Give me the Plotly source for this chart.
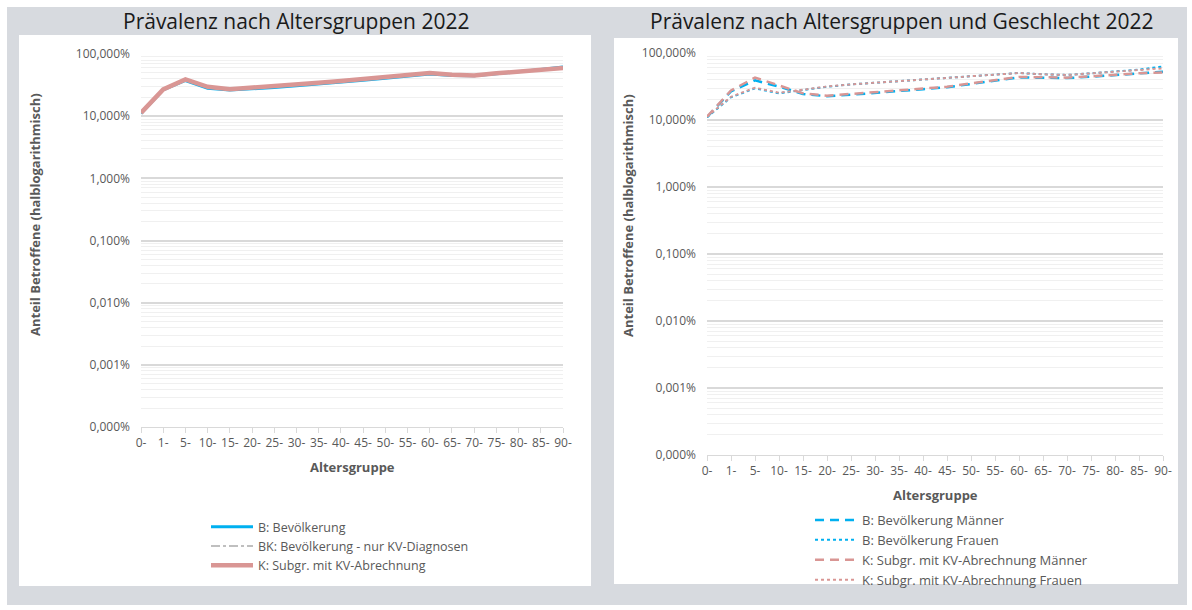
import plotly.graph_objects as go

# ---------------- data ----------------
age_groups = ["0-", "1-", "5-", "10-", "15-", "20-", "25-", "30-", "35-", "40-",
              "45-", "50-", "55-", "60-", "65-", "70-", "75-", "80-", "85-", "90-"]

# left chart (percent)
b_total = [11.0, 26.5, 37.5, 28.0, 26.3, 27.3, 29.0, 30.8, 32.8, 35.0,
           37.7, 40.8, 44.5, 47.5, 45.0, 44.5, 48.0, 51.5, 56.5, 62.0]
bk_total = [11.2, 26.8, 38.5, 29.3, 27.0, 28.3, 30.2, 32.0, 34.0, 36.3,
            39.0, 42.2, 45.8, 49.0, 46.0, 45.0, 48.5, 51.5, 55.5, 59.0]
k_total = [11.3, 27.0, 39.0, 29.7, 27.2, 28.6, 30.5, 32.4, 34.4, 36.7,
           39.5, 42.6, 46.3, 49.4, 46.3, 45.3, 48.9, 51.9, 55.9, 59.4]

# right chart (percent)
b_maenner = [11.0, 26.8, 39.0, 31.5, 24.5, 22.6, 23.8, 25.6, 27.1, 28.8,
             30.8, 34.5, 38.8, 43.2, 42.7, 42.2, 44.2, 46.8, 49.5, 52.5]
b_frauen = [11.0, 21.8, 29.7, 25.0, 28.0, 31.4, 34.0, 36.0, 38.2, 40.5,
            42.4, 45.4, 48.1, 50.3, 48.1, 47.0, 49.8, 52.6, 56.5, 63.0]
k_maenner = [11.2, 27.6, 43.0, 33.0, 25.0, 23.1, 24.4, 26.2, 27.7, 29.4,
             31.4, 35.2, 39.5, 43.9, 43.4, 42.9, 44.9, 47.5, 49.8, 51.4]
k_frauen = [11.2, 22.2, 30.3, 25.5, 28.3, 31.6, 34.0, 36.0, 38.2, 40.5,
            42.4, 45.4, 48.1, 50.3, 48.1, 47.0, 49.8, 52.3, 55.0, 59.0]

y_tick_vals = [0.0001, 0.001, 0.01, 0.1, 1, 10, 100]
y_tick_text = ["0,000%", "0,001%", "0,010%", "0,100%", "1,000%", "10,000%", "100,000%"]

# ---------------- styling ----------------
W, H = 1192, 610
FONT = "Open Sans"
TXT = "#595959"
BLUE = "#00b0f0"
RED = "#d99694"
GRAY = "#bfbfbf"
BG = "#d7dadf"

def px(x):
    return x / W

def py(y):
    return 1 - y / H

minor_vals = [m * 10 ** e for e in range(-4, 2) for m in range(2, 10)]

fig = go.Figure()

fig.add_trace(go.Scatter(x=age_groups, y=b_total, mode="lines", name="B: Bevölkerung",
                         line=dict(color=BLUE, width=3), xaxis="x", yaxis="y", legend="legend"))
fig.add_trace(go.Scatter(x=age_groups, y=bk_total, mode="lines", name="BK: Bevölkerung - nur KV-Diagnosen",
                         line=dict(color=GRAY, width=2, dash="dashdot"), xaxis="x", yaxis="y", legend="legend"))
fig.add_trace(go.Scatter(x=age_groups, y=k_total, mode="lines", name="K: Subgr. mit KV-Abrechnung",
                         line=dict(color=RED, width=4.5), xaxis="x", yaxis="y", legend="legend"))

fig.add_trace(go.Scatter(x=age_groups, y=b_maenner, mode="lines", name="B: Bevölkerung Männer",
                         line=dict(color=BLUE, width=2.5, dash="9px,6px"), xaxis="x2", yaxis="y2", legend="legend2"))
fig.add_trace(go.Scatter(x=age_groups, y=b_frauen, mode="lines", name="B: Bevölkerung Frauen",
                         line=dict(color=BLUE, width=2, dash="dot"), xaxis="x2", yaxis="y2", legend="legend2"))
fig.add_trace(go.Scatter(x=age_groups, y=k_maenner, mode="lines", name="K: Subgr. mit KV-Abrechnung Männer",
                         line=dict(color=RED, width=2.5, dash="9px,6px"), xaxis="x2", yaxis="y2", legend="legend2"))
fig.add_trace(go.Scatter(x=age_groups, y=k_frauen, mode="lines", name="K: Subgr. mit KV-Abrechnung Frauen",
                         line=dict(color=RED, width=2, dash="dot"), xaxis="x2", yaxis="y2", legend="legend2"))

def xaxis_cfg(domain, anchor):
    return dict(domain=domain, type="category", range=[0, len(age_groups) - 1], anchor=anchor,
                showgrid=False, showline=True, linecolor="#d9d9d9", linewidth=1,
                ticks="outside", ticklen=5, tickcolor="#d9d9d9",
                tickfont=dict(family=FONT, size=12, color=TXT), zeroline=False,
                automargin=False, fixedrange=True)

def yaxis_cfg(domain, anchor):
    return dict(domain=domain, type="log", range=[-4, 2], anchor=anchor,
                tickmode="array", tickvals=y_tick_vals, ticktext=y_tick_text,
                tickfont=dict(family=FONT, size=12, color=TXT),
                showgrid=True, gridcolor="#d9d9d9", gridwidth=1.5,
                minor=dict(tickmode="array", tickvals=minor_vals, showgrid=True,
                           gridcolor="#f0f0f0", gridwidth=1, ticks=""),
                showline=False, zeroline=False, ticks="", ticklabelstandoff=10,
                automargin=False, fixedrange=True)

shapes = [
    dict(type="rect", xref="paper", yref="paper", x0=px(7), x1=px(1187), y0=py(605), y1=py(7),
         fillcolor=BG, line=dict(width=0), layer="below"),
    dict(type="rect", xref="paper", yref="paper", x0=px(19), x1=px(591), y0=py(586), y1=py(35),
         fillcolor="white", line=dict(width=0), layer="below"),
    dict(type="rect", xref="paper", yref="paper", x0=px(614), x1=px(1178), y0=py(584), y1=py(38),
         fillcolor="white", line=dict(width=0), layer="below"),
]

annotations = [
    dict(text="Prävalenz nach Altersgruppen 2022", x=px(296), y=py(21), xref="paper", yref="paper",
         showarrow=False, font=dict(family=FONT, size=21, color="#1a1a1a"), xanchor="center", yanchor="middle"),
    dict(text="Prävalenz nach Altersgruppen und Geschlecht 2022", x=px(901), y=py(21), xref="paper", yref="paper",
         showarrow=False, font=dict(family=FONT, size=21, color="#1a1a1a"), xanchor="center", yanchor="middle"),
    dict(text="<b>Anteil Betroffene (halblogarithmisch)</b>", x=px(35), y=py(215), xref="paper", yref="paper",
         showarrow=False, textangle=-90, font=dict(family=FONT, size=13, color=TXT), xanchor="center", yanchor="middle"),
    dict(text="<b>Anteil Betroffene (halblogarithmisch)</b>", x=px(628), y=py(216), xref="paper", yref="paper",
         showarrow=False, textangle=-90, font=dict(family=FONT, size=13, color=TXT), xanchor="center", yanchor="middle"),
    dict(text="<b>Altersgruppe</b>", x=px(352), y=py(467), xref="paper", yref="paper",
         showarrow=False, font=dict(family=FONT, size=13, color=TXT), xanchor="center", yanchor="middle"),
    dict(text="<b>Altersgruppe</b>", x=px(935), y=py(495), xref="paper", yref="paper",
         showarrow=False, font=dict(family=FONT, size=13, color=TXT), xanchor="center", yanchor="middle"),
]

fig.update_layout(
    template="none",
    width=W, height=H,
    margin=dict(l=0, r=0, t=0, b=0, pad=0, autoexpand=False),
    paper_bgcolor="white", plot_bgcolor="rgba(0,0,0,0)",
    font=dict(family=FONT, size=12, color=TXT),
    xaxis=xaxis_cfg([px(141), px(563)], "y"),
    yaxis=yaxis_cfg([py(427), py(54)], "x"),
    xaxis2=xaxis_cfg([px(707), px(1163)], "y2"),
    yaxis2=yaxis_cfg([py(455), py(53)], "x2"),
    shapes=shapes,
    annotations=annotations,
    legend=dict(x=px(206), y=py(512), xanchor="left", yanchor="top", bgcolor="rgba(0,0,0,0)",
                font=dict(family=FONT, size=12.5, color=TXT), tracegroupgap=0, itemwidth=42),
    legend2=dict(x=px(810), y=py(505), xanchor="left", yanchor="top", bgcolor="rgba(0,0,0,0)",
                 font=dict(family=FONT, size=13, color=TXT), tracegroupgap=0, itemwidth=42),
    showlegend=True,
)

fig.write_html("out.html", config={"displayModeBar": False},
               post_script="document.body.style.margin='0';document.body.style.overflow='hidden';")
